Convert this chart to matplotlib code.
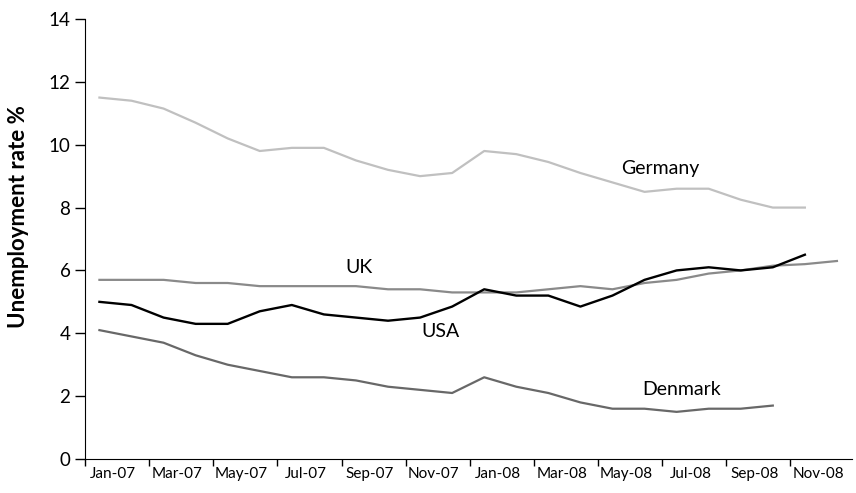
import numpy as np
import matplotlib
matplotlib.use("Agg")
import matplotlib.pyplot as plt

# monthly unemployment rates, Jan-07 onwards
germany = [11.5, 11.4, 11.15, 10.7, 10.2, 9.8, 9.9, 9.9, 9.5, 9.2, 9.0, 9.1,
           9.8, 9.7, 9.45, 9.1, 8.8, 8.5, 8.6, 8.6, 8.25, 8.0, 8.0]
uk = [5.7, 5.7, 5.7, 5.6, 5.6, 5.5, 5.5, 5.5, 5.5, 5.4, 5.4, 5.3,
      5.3, 5.3, 5.4, 5.5, 5.4, 5.6, 5.7, 5.9, 6.0, 6.15, 6.2, 6.3]
usa = [5.0, 4.9, 4.5, 4.3, 4.3, 4.7, 4.9, 4.6, 4.5, 4.4, 4.5, 4.85,
       5.4, 5.2, 5.2, 4.85, 5.2, 5.7, 6.0, 6.1, 6.0, 6.1, 6.5]
denmark = [4.1, 3.9, 3.7, 3.3, 3.0, 2.8, 2.6, 2.6, 2.5, 2.3, 2.2, 2.1,
           2.6, 2.3, 2.1, 1.8, 1.6, 1.6, 1.5, 1.6, 1.6, 1.7]

tick_labels = ['Jan-07', 'Mar-07', 'May-07', 'Jul-07', 'Sep-07', 'Nov-07',
               'Jan-08', 'Mar-08', 'May-08', 'Jul-08', 'Sep-08', 'Nov-08']

plt.rcParams['font.family'] = ['Lato', 'DejaVu Sans']

fig = plt.figure(figsize=(8.56, 4.93), dpi=100)
ax = fig.add_axes([85 / 856, 34 / 493, 767 / 856, 440 / 493])

# points sit mid-month on a month scale
def xs(series):
    return np.arange(len(series)) + 0.45

ax.plot(xs(germany), germany, color='#c0c0c0', lw=1.6)
ax.plot(xs(uk), uk, color='#8a8a8a', lw=1.6)
ax.plot(xs(denmark), denmark, color='#686868', lw=1.6)
ax.plot(xs(usa), usa, color='black', lw=1.7)

ax.text(17.95, 9.25, 'Germany', fontsize=14, ha='center', va='center')
ax.text(8.55, 6.1, 'UK', fontsize=14, ha='center', va='center')
ax.text(11.1, 4.05, 'USA', fontsize=14, ha='center', va='center')
ax.text(18.6, 2.2, 'Denmark', fontsize=14, ha='center', va='center')

ax.set_xlim(0, 23.92)
ax.set_ylim(0, 14)
ax.set_yticks(range(0, 15, 2))
ax.tick_params(axis='y', labelsize=13.5, length=7, width=1, direction='out')

ax.set_xticks(np.arange(0, 24, 2))
ax.set_xticks(np.arange(0, 24, 2) + 0.88, minor=True)
ax.set_xticklabels([])
ax.set_xticklabels(tick_labels, minor=True)
ax.tick_params(axis='x', which='major', length=5, width=1)
ax.tick_params(axis='x', which='minor', length=0, labelsize=11, pad=6)

ax.spines['top'].set_visible(False)
ax.spines['right'].set_visible(False)
ax.set_ylabel('Unemployment rate %', fontsize=16, fontweight='bold', va='center')
ax.yaxis.set_label_coords(-0.087, 0.552)

fig.savefig('out.png', dpi=100)
